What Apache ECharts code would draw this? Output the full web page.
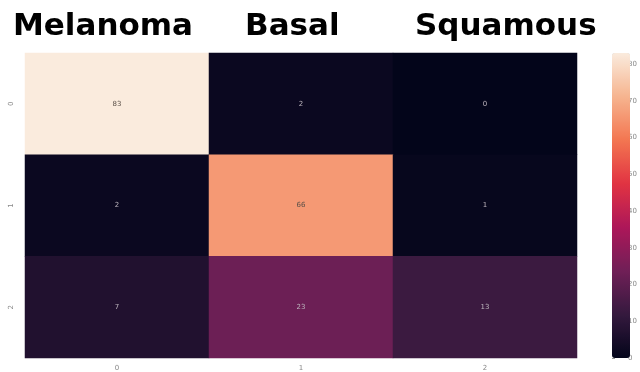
<!DOCTYPE html>
<html>
<head>
<meta charset="utf-8">
<script src="https://cdn.jsdelivr.net/npm/echarts@6/dist/echarts.min.js"></script>
<style>
  html, body { margin: 0; padding: 0; background: #fff; }
  #chart { width: 640px; height: 372px; }
</style>
</head>
<body>
<div id="chart"></div>
<script>
// Confusion matrix: rows = true class index, columns = predicted class index
const classNames = ['Melanoma', 'Basal', 'Squamous'];
const xTicks = ['0', '1', '2'];
const yTicks = ['0', '1', '2'];
const row0 = [83, 2, 0];
const row1 = [2, 66, 1];
const row2 = [7, 23, 13];
const colorbarMin = 0;
const colorbarMax = 83;

// seaborn "rocket" colour ramp
const rocket = ['#03051A', '#35193E', '#701F57', '#AD1759', '#E13342', '#F37651', '#F6B48F', '#FAEBDD'];

const rows = [row0, row1, row2];
const cells = [];
rows.forEach((row, r) => {
  row.forEach((v, c) => {
    const light = v / colorbarMax > 0.5;
    cells.push({
      value: [c, r, v],
      label: { color: light ? '#5a5048' : '#bdb5bd' }
    });
  });
});

// header placement (left edge of each header word)
const headerLeft = [13, 245, 415];

const chart = echarts.init(document.getElementById('chart'), null, { renderer: 'canvas' });
chart.setOption({
  animation: false,
  backgroundColor: '#ffffff',
  grid: [
    { left: 25, top: 53, width: 552, height: 305 },
    { left: 612, top: 53, width: 18, height: 305 }
  ],
  xAxis: [
    {
      gridIndex: 0, type: 'category', data: xTicks, position: 'bottom',
      axisLine: { show: false }, axisTick: { show: false }, splitArea: { show: false },
      axisLabel: { fontSize: 7, color: '#888', margin: 7, fontFamily: 'DejaVu Sans' }
    },
    { gridIndex: 1, type: 'value', show: false, min: 0, max: 1 }
  ],
  yAxis: [
    {
      gridIndex: 0, type: 'category', data: yTicks, inverse: true,
      axisLine: { show: false }, axisTick: { show: false },
      axisLabel: { fontSize: 7, color: '#888', margin: 10, rotate: 90, fontFamily: 'DejaVu Sans' }
    },
    {
      gridIndex: 1, type: 'value', min: colorbarMin, max: colorbarMax, interval: 10,
      position: 'right',
      axisLine: { show: false },
      axisTick: { show: true, length: 3, lineStyle: { color: '#999', width: 1 } },
      splitLine: { show: false },
      axisLabel: { fontSize: 7, color: '#888', margin: 2, fontFamily: 'DejaVu Sans',
        showMaxLabel: false }
    }
  ],
  visualMap: {
    type: 'continuous',
    min: colorbarMin,
    max: colorbarMax,
    seriesIndex: 0,
    dimension: 2,
    calculable: false,
    hoverLink: false,
    showLabel: false,
    left: 612,
    top: 53,
    itemWidth: 18,
    itemHeight: 305,
    padding: 0,
    text: ['', ''],
    indicatorSize: 0,
    inRange: { color: rocket }
  },
  graphic: classNames.map((name, i) => ({
    type: 'text',
    left: headerLeft[i],
    top: 11,
    style: {
      text: name,
      fontFamily: 'DejaVu Sans',
      fontWeight: 'bold',
      fontSize: 31,
      fill: '#000'
    }
  })),
  series: [{
    type: 'heatmap',
    xAxisIndex: 0,
    yAxisIndex: 0,
    data: cells,
    label: { show: true, fontSize: 7, fontFamily: 'DejaVu Sans',
      formatter: p => p.value[2] },
    itemStyle: { borderWidth: 0 },
    emphasis: { disabled: true }
  }]
});
</script>
</body>
</html>
